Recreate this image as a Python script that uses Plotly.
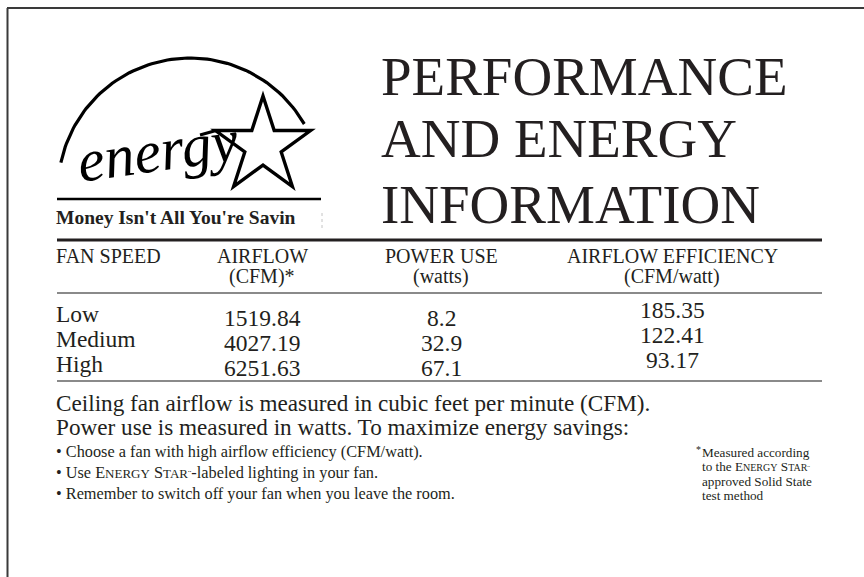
import numpy as np
import plotly.graph_objects as go

# ---------------- data ----------------
fan_speeds = ["Low", "Medium", "High"]
airflow_cfm = [1519.84, 4027.19, 6251.63]
power_watts = [8.2, 32.9, 67.1]
airflow_efficiency = [185.35, 122.41, 93.17]

header_main = ["FAN SPEED", "AIRFLOW", "POWER USE", "AIRFLOW EFFICIENCY"]
header_unit = ["", "(CFM)*", "(watts)", "(CFM/watt)"]

title_lines = ["PERFORMANCE", "AND ENERGY", "INFORMATION"]
tagline = "Money Isn't All You're Savin"
logo_word = "energy"
intro_lines = [
    "Ceiling fan airflow is measured in cubic feet per minute (CFM).",
    "Power use is measured in watts. To maximize energy savings:",
]


def small_caps(word, size):
    return word[0] + "<span style='font-size:%dpx'>%s</span>" % (size, word[1:].upper())


bullet_lines = [
    "• Choose a fan with high airflow efficiency (CFM/watt).",
    "• Use " + small_caps("Energy", 13) + " " + small_caps("Star", 13)
    + "<span style='font-size:10px'>¨</span>-labeled lighting in your fan.",
    "• Remember to switch off your fan when you leave the room.",
]
footnote_lines = [
    "Measured according",
    "to the " + small_caps("Energy", 10) + " " + small_caps("Star", 10)
    + "<span style='font-size:8px'>¨</span>",
    "approved Solid State",
    "test method",
]

# ---------------- style / layout constants ----------------
W, H = 864, 577
INK = "#231f20"
SERIF = "Liberation Serif"
col_x = [56, 262, 441, 672]          # label left edge, then column centres
header_y = [256, 276]
title_y = [76.5, 138.5, 204.5]
intro_y = [403, 427]
bullet_y = [451, 472, 493]
foot_y = [452, 466.6, 481.2, 495.8]
rows_top, rows_bottom = 302, 377     # pixel band used by the row axis

fig = go.Figure()

# --- logo arc (decoration) ---
t = np.radians(np.linspace(168, 30, 80))
arc_x = 190 + 132 * np.cos(t)
arc_y = 190 - 132 * np.sin(t)
fig.add_trace(go.Scatter(x=arc_x, y=arc_y, mode="lines",
                         line=dict(color="black", width=3.2),
                         hoverinfo="skip", xaxis="x", yaxis="y"))

# --- star (decoration) ---
ang = np.radians(-90 + 36 * np.arange(11))
rad = np.where(np.arange(11) % 2 == 0, 50, 19.1)
sx = 263 + rad * np.cos(ang)
sy = 146 + rad * np.sin(ang)
star_path = "M " + " L ".join("%.1f,%.1f" % (a, b) for a, b in zip(sx, sy)) + " Z"

# invisible trace to build the row axis
fig.add_trace(go.Scatter(x=[col_x[0]] * len(fan_speeds), y=fan_speeds,
                         xaxis="x2", yaxis="y2", mode="markers",
                         marker=dict(opacity=0), hoverinfo="skip"))

shapes = [
    # page border (top, left)
    dict(type="line", xref="x", yref="y", x0=7, x1=W, y0=8, y1=8,
         line=dict(color="#3a3a3a", width=2)),
    dict(type="line", xref="x", yref="y", x0=7.5, x1=7.5, y0=8, y1=H,
         line=dict(color="#3a3a3a", width=2)),
    # logo
    dict(type="path", xref="x", yref="y", path=star_path,
         line=dict(color="black", width=3.4)),
    dict(type="line", xref="x", yref="y", x0=200, x1=216, y0=135, y1=130.5,
         line=dict(color="black", width=3)),
    dict(type="line", xref="x", yref="y", x0=57, x1=321, y0=199, y1=199,
         line=dict(color="black", width=2.6)),
    dict(type="line", xref="x", yref="y", x0=322, x1=322, y0=213, y1=229,
         line=dict(color="#c4c4c4", width=1, dash="dot")),
    # table rules
    dict(type="line", xref="x", yref="y", x0=57, x1=822, y0=240, y1=240,
         line=dict(color=INK, width=2.8)),
    dict(type="line", xref="x", yref="y", x0=57, x1=822, y0=293, y1=293,
         line=dict(color="#8a8a8a", width=2)),
    dict(type="line", xref="x", yref="y", x0=57, x1=822, y0=381, y1=381,
         line=dict(color="#8a8a8a", width=2)),
]

ann = []


def text(x, y, s, size, anchor="left", bold=False, angle=0, xref="x", yref="y",
         yshift=0, color=INK):
    ann.append(dict(x=x, y=y, xref=xref, yref=yref, text=("<b>%s</b>" % s) if bold else s,
                    showarrow=False, xanchor=anchor, yanchor="middle",
                    textangle=angle, yshift=yshift, borderpad=0, borderwidth=0,
                    font=dict(family=SERIF, size=size, color=color)))


# logo word + tagline
text(157, 151, "<i>%s</i>" % logo_word, 60, anchor="center", angle=-8, color="black")
text(56, 217, tagline, 19.5, bold=True)

# title
for y, s in zip(title_y, title_lines):
    text(381, y, s, 55)

# headers
text(col_x[0], header_y[0], header_main[0], 20)
for cx, top, unit in zip(col_x[1:], header_main[1:], header_unit[1:]):
    text(cx, header_y[0], top, 20, anchor="center")
    text(cx, header_y[1], unit, 20, anchor="center")

# rows (placed through the categorical row axis)
for i, sp in enumerate(fan_speeds):
    text(col_x[0], sp, sp, 23.5, xref="x2", yref="y2", yshift=1)
    text(col_x[1], sp, "%.2f" % airflow_cfm[i], 23.5, anchor="center",
         xref="x2", yref="y2", yshift=-3)
    text(col_x[2], sp, "%.1f" % power_watts[i], 23.5, anchor="center",
         xref="x2", yref="y2", yshift=-3)
    text(col_x[3], sp, "%.2f" % airflow_efficiency[i], 23.5, anchor="center",
         xref="x2", yref="y2", yshift=5)

# explanatory text
for y, s in zip(intro_y, intro_lines):
    text(56, y, s, 23.2)
for y, s in zip(bullet_y, bullet_lines):
    text(56, y, s, 16.3)
text(696, foot_y[0] - 3, "*", 10)
for y, s in zip(foot_y, footnote_lines):
    text(702, y, s, 13.2)

fig.update_layout(
    width=W, height=H,
    margin=dict(l=0, r=0, t=0, b=0),
    paper_bgcolor="white", plot_bgcolor="white",
    showlegend=False,
    xaxis=dict(range=[0, W], visible=False, domain=[0, 1], fixedrange=True),
    yaxis=dict(range=[H, 0], visible=False, domain=[0, 1], fixedrange=True),
    xaxis2=dict(range=[0, W], visible=False, domain=[0, 1], anchor="y2",
                fixedrange=True),
    yaxis2=dict(type="category", categoryorder="array", categoryarray=fan_speeds,
                range=[len(fan_speeds) - 0.5, -0.5], visible=False, anchor="x2",
                domain=[1 - rows_bottom / H, 1 - rows_top / H], fixedrange=True),
    shapes=shapes,
    annotations=ann,
)

fig.write_html("out.html", config={"displayModeBar": False},
               post_script="document.body.style.margin='0px';")
